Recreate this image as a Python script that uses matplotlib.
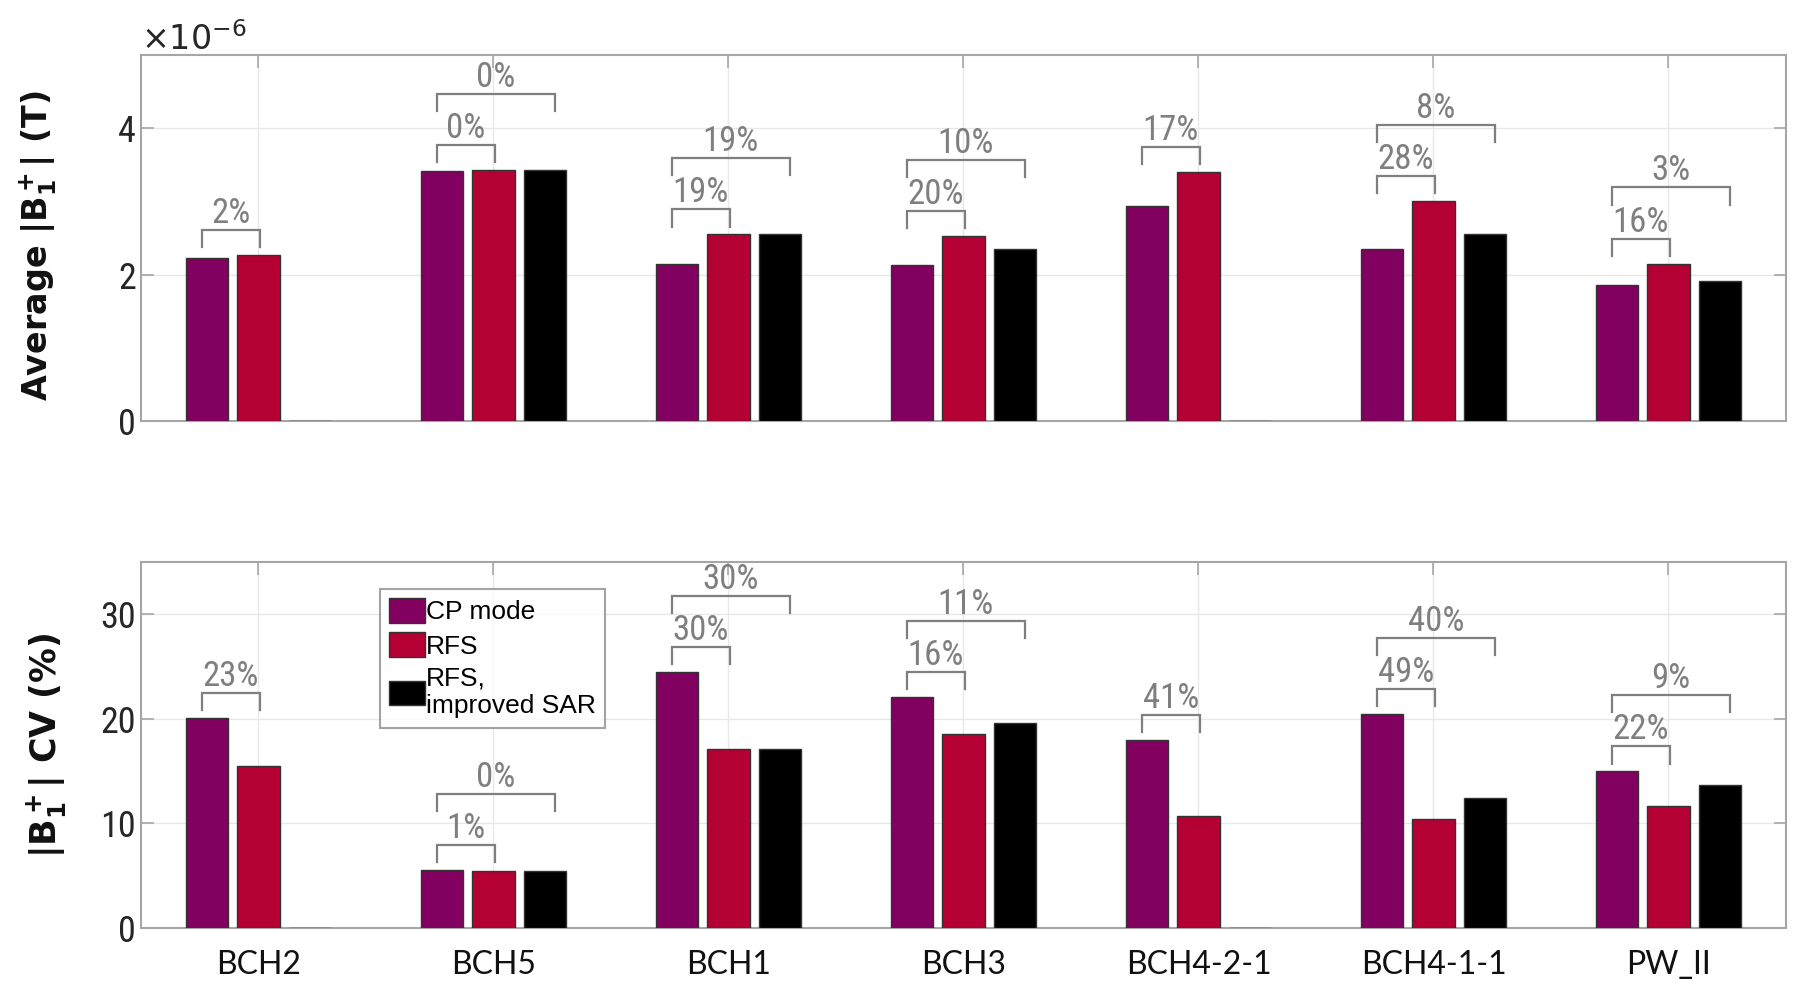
import matplotlib
matplotlib.use("Agg")
import matplotlib.pyplot as plt
import numpy as np
from matplotlib import font_manager

categories = ["BCH2", "BCH5", "BCH1", "BCH3", "BCH4-2-1", "BCH4-1-1", "PW_II"]
series_names = ["CP mode", "RFS", "RFS,\nimproved SAR"]

# Average |B1+| in units of 1e-6 T
avg_cp = [2.23, 3.42, 2.15, 2.13, 2.93, 2.35, 1.86]
avg_rfs = [2.27, 3.43, 2.55, 2.53, 3.40, 3.01, 2.15]
avg_sar = [0.0, 3.43, 2.55, 2.35, 0.0, 2.55, 1.91]

# |B1+| CV in %
cv_cp = [20.1, 5.55, 24.5, 22.1, 18.0, 20.5, 15.0]
cv_rfs = [15.5, 5.5, 17.1, 18.6, 10.7, 10.4, 11.7]
cv_sar = [0.0, 5.5, 17.1, 19.6, 0.0, 12.4, 13.7]

top_short = ["2%", "0%", "19%", "20%", "17%", "28%", "16%"]
top_long = [None, "0%", "19%", "10%", None, "8%", "3%"]
bot_short = ["23%", "1%", "30%", "16%", "41%", "49%", "22%"]
bot_long = [None, "0%", "30%", "11%", None, "40%", "9%"]

colors = ["#820060", "#B50034", "#000000"]

avail = {f.name for f in font_manager.fontManager.ttflist}
narrow = "DejaVu Sans"
for cand in ["Liberation Sans Narrow", "Roboto Condensed", "Open Sans Condensed",
             "Noto Sans Condensed", "DejaVu Sans Condensed", "Liberation Sans"]:
    if cand in avail:
        narrow = cand
        break
catfont = "Lato" if "Lato" in avail else "DejaVu Sans"

plt.rcParams["font.family"] = ["Liberation Sans", "DejaVu Sans"]
plt.rcParams["mathtext.fontset"] = "dejavusans"

fig = plt.figure(figsize=(18, 9.98), dpi=100)
ax1 = fig.add_axes([0.0783, 0.5782, 0.9139, 0.3667])
ax2 = fig.add_axes([0.0783, 0.0701, 0.9139, 0.3667])

x = np.arange(1, len(categories) + 1)
off = 0.22
w = 0.18
spine_c = "#a6a6a6"
ann_c = "#7f7f7f"


def style(ax, ymax, yticks):
    ax.set_xlim(0.5, 7.5)
    ax.set_ylim(0, ymax)
    ax.set_xticks(x)
    ax.set_yticks(yticks)
    ax.grid(True, color="#e8e8e8", linewidth=1.0)
    ax.set_axisbelow(True)
    for s in ax.spines.values():
        s.set_color(spine_c)
        s.set_linewidth(1.5)
    ax.tick_params(direction="in", length=9, width=1.2, color=spine_c,
                   top=True, right=True, labelcolor="#262626")
    for lab in ax.get_yticklabels():
        lab.set_fontfamily(narrow)
        lab.set_fontsize(26)


def draw(ax, vals_list, ymax, short_labels, long_labels):
    for i, (vals, c) in enumerate(zip(vals_list, colors)):
        ax.bar(x + (i - 1) * off, vals, width=w, color=c, edgecolor="#333333",
               linewidth=1.0, label=series_names[i], zorder=3)
    lift = 0.068 * ymax
    leg = 0.047 * ymax
    step = 0.14 * ymax
    tpad = 0.0
    for k in range(len(x)):
        xl = x[k] - off - 0.02
        ys = max(vals_list[0][k], vals_list[1][k]) + lift
        xr = x[k] + 0.005
        ax.plot([xl, xl, xr, xr], [ys - leg, ys, ys, ys - leg], color=ann_c,
                linewidth=1.6, zorder=4, solid_joinstyle="miter")
        ax.text((xl + xr) / 2, ys + tpad, short_labels[k], ha="center", va="bottom",
                color=ann_c, fontsize=25, fontfamily=narrow, zorder=5)
        if long_labels[k] is not None:
            yl = ys + step
            xr2 = x[k] + 0.26
            ax.plot([xl, xl, xr2, xr2], [yl - leg, yl, yl, yl - leg], color=ann_c,
                    linewidth=1.6, zorder=4, solid_joinstyle="miter")
            ax.text((xl + xr2) / 2, yl + tpad, long_labels[k], ha="center", va="bottom",
                    color=ann_c, fontsize=25, fontfamily=narrow, zorder=5)


draw(ax1, [avg_cp, avg_rfs, avg_sar], 5, top_short, top_long)
style(ax1, 5, [0, 2, 4])
ax1.set_xticklabels([])
ax1.text(0.0, 0.995, r"$\times10^{-6}$", transform=ax1.transAxes, fontsize=24,
         color="#262626", ha="left", va="bottom")
ax1.set_ylabel(r"Average |$\mathbf{B_1^+}$| (T)", fontsize=24, fontweight="bold",
               color="#111111", fontfamily="DejaVu Sans")
ax1.yaxis.set_label_coords(-0.049, 0.48)

draw(ax2, [cv_cp, cv_rfs, cv_sar], 35, bot_short, bot_long)
style(ax2, 35, [0, 10, 20, 30])
ax2.set_xticklabels(categories, fontsize=23, fontfamily=catfont, color="#111111")
ax2.tick_params(axis="x", pad=16)
ax2.set_ylabel(r"|$\mathbf{B_1^+}$| CV (%)", fontsize=25, fontweight="bold",
               color="#111111", fontfamily="DejaVu Sans")
ax2.yaxis.set_label_coords(-0.044, 0.5)

legend = ax2.legend(loc="upper left", bbox_to_anchor=(0.1452, 0.9265), fontsize=19,
                    frameon=True, fancybox=False, edgecolor="#8c8c8c",
                    handlelength=1.35, handleheight=1.05, handletextpad=0.05,
                    labelspacing=0.3, borderpad=0.35, borderaxespad=0.0)
legend.get_frame().set_linewidth(1.5)

fig.savefig("out.png", dpi=100, facecolor="white")
